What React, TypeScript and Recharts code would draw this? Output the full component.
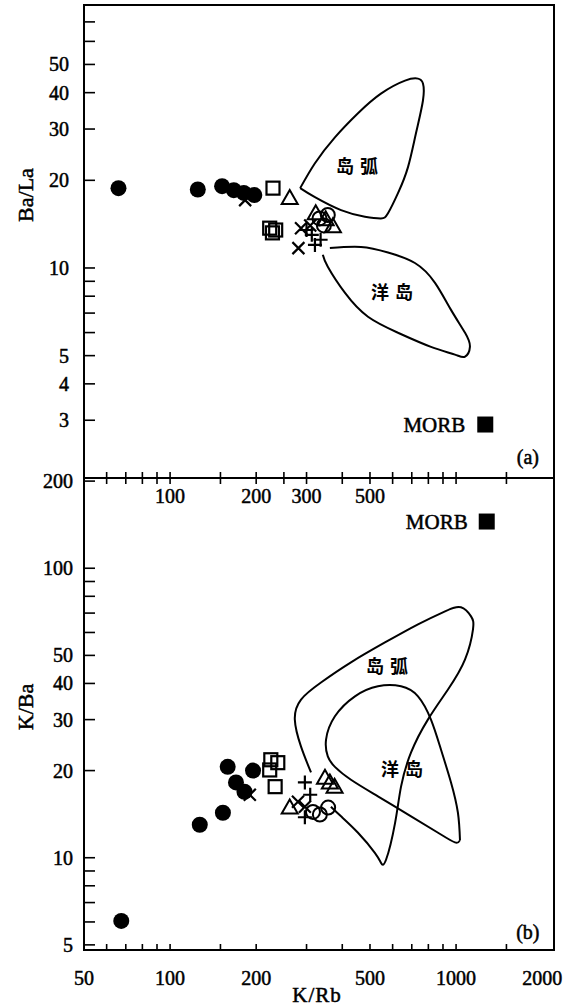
import React from "react";
import { ScatterChart, Scatter, XAxis, YAxis, ReferenceArea, ReferenceDot } from "recharts";

const SERIF = '"Liberation Serif", "Times New Roman", serif';
const CJK = '"Noto Sans CJK SC", sans-serif';
// regular weight, slightly thickened like the scanned print
const INK = { fontWeight: 400, stroke: "#000", strokeWidth: 0.5 };

// axes
const kRbDomain = [50, 2200];
const baLaDomain = [1.9, 80];
const kBaDomain = [4.8, 205];
const kRbTicksA = [60, 70, 80, 90, 100, 150, 200, 250, 300, 400, 500, 600, 700, 800, 900, 1000, 1500];
const kRbLabelsA = [100, 200, 300, 500];
const kRbTicksB = [50, 60, 70, 80, 90, 100, 150, 200, 300, 400, 500, 600, 700, 800, 900, 1000, 1500, 2000];
const kRbLabelsB = [50, 100, 200, 500, 1000, 2000];
const kRbNoLineB = [50, 2000];
const baLaTicks = [3, 4, 5, 6, 7, 8, 9, 10, 20, 30, 40, 50, 60, 70];
const baLaLabels = [3, 4, 5, 10, 20, 30, 40, 50];
const kBaTicks = [5, 6, 7, 8, 9, 10, 20, 30, 40, 50, 60, 70, 80, 90, 100, 200];
const kBaLabels = [5, 10, 20, 30, 40, 50, 100, 200];

// (a) Ba/La vs K/Rb
const aDotKRb = [66, 125, 152, 167, 181, 197];
const aDotBaLa = [18.8, 18.6, 19.1, 18.5, 18.1, 17.8];
const aSqKRb = [229, 223, 234, 228];
const aSqBaLa = [18.8, 13.7, 13.5, 13.2];
const aTriKRb = [262, 323, 350, 371];
const aTriBaLa = [17.4, 15.4, 14.7, 13.9];
const aCirKRb = [333, 356, 345];
const aCirBaLa = [14.8, 15.2, 14.0];
const aXKRb = [183, 287, 309, 281];
const aXBaLa = [17.1, 13.7, 14.0, 11.7];
const aPlusKRb = [300, 321, 336, 313];
const aPlusBaLa = [13.5, 12.0, 12.5, 13.0];
const aMorbKRb = [1265];
const aMorbBaLa = [2.9];

// (a) fields
const arcAKRb = [285, 321, 377, 454, 546, 663, 736, 766, 766, 724, 679, 627, 578, 546, 480, 396, 321, 285];
const arcABaLa = [18.8, 22.9, 28.1, 34.0, 39.7, 44.0, 44.7, 43.0, 37.6, 29.0, 22.2, 18.1, 15.4, 14.8, 15.0, 15.8, 17.5, 18.8];
const oibAKRb = [362, 465, 578, 718, 844, 960, 1075, 1118, 1075, 991, 817, 627, 492, 409, 356, 342];
const oibABaLa = [11.7, 11.8, 11.3, 10.4, 8.89, 7.18, 5.99, 5.36, 4.96, 5.04, 5.36, 5.99, 6.8, 8.21, 10.1, 11.1];

// (b) K/Ba vs K/Rb
const bDotKRb = [67.5, 127, 153, 159, 170, 182, 195];
const bDotKBa = [6.05, 13.0, 14.3, 20.6, 18.2, 16.9, 20.0];
const bSqKRb = [225, 238, 223, 233];
const bSqKBa = [21.8, 21.3, 20.1, 17.6];
const bTriKRb = [262, 362, 376, 348];
const bTriKBa = [14.9, 18.2, 17.6, 18.9];
const bCirKRb = [357, 334, 316];
const bCirKBa = [14.9, 14.1, 14.4];
const bXKRb = [190, 280, 296];
const bXKBa = [16.5, 15.6, 15.0];
const bPlusKRb = [296, 296, 309];
const bPlusKBa = [18.2, 13.8, 16.5];
const bMorbKRb = [1280];
const bMorbKBa = [145];

// (b) fields
const arcBKRb = [311, 287, 273, 287, 337, 429, 564, 736, 915, 1040, 1128, 1146, 1075, 937, 797, 696, 642, 612, 569, 546, 520, 454, 396, 365];
const arcBKBa = [19.7, 24.2, 30.0, 35.2, 40.3, 47.3, 55.4, 64.0, 71.0, 73.3, 68.2, 61.5, 48.4, 38.1, 30.0, 23.1, 17.6, 13.2, 9.84, 9.61, 10.4, 12.2, 13.9, 15.0];
const oibBKRb = [1032, 991, 865, 696, 533, 429, 377, 356, 351, 377, 443, 533, 642, 736, 817, 886, 960, 1015, 1032];
const oibBKBa = [11.5, 11.3, 12.2, 13.9, 16.3, 18.6, 20.6, 22.4, 25.6, 30.8, 36.1, 39.1, 39.1, 36.1, 30.0, 23.6, 18.2, 14.3, 11.5];

const zip = (xs: number[], ys: number[]) => xs.map((x, i) => ({ x, y: ys[i] }));

// markers
const FilledCircle = (p: any) => <circle cx={p.cx} cy={p.cy} r={8} fill="#000" />;
const OpenCircle = (p: any) => (
  <circle cx={p.cx} cy={p.cy} r={7} fill="none" stroke="#000" strokeWidth={2} />
);
const OpenSquare = (p: any) => (
  <rect x={p.cx - 6.5} y={p.cy - 6.5} width={13} height={13} fill="none" stroke="#000" strokeWidth={2.2} />
);
const FilledSquare = (p: any) => <rect x={p.cx - 8} y={p.cy - 8} width={16} height={16} fill="#000" />;
const OpenTriangle = (p: any) => (
  <polygon
    points={`${p.cx},${p.cy - 8} ${p.cx + 8},${p.cy + 6} ${p.cx - 8},${p.cy + 6}`}
    fill="none"
    stroke="#000"
    strokeWidth={2}
  />
);
const XMark = (p: any) => (
  <path
    d={`M${p.cx - 6},${p.cy - 6}L${p.cx + 6},${p.cy + 6}M${p.cx - 6},${p.cy + 6}L${p.cx + 6},${p.cy - 6}`}
    stroke="#000"
    strokeWidth={2.2}
  />
);
const PlusMark = (p: any) => (
  <path
    d={`M${p.cx - 7},${p.cy}L${p.cx + 7},${p.cy}M${p.cx},${p.cy - 7}L${p.cx},${p.cy + 7}`}
    stroke="#000"
    strokeWidth={2.2}
  />
);
const NoMark = () => <g />;

// ticks
const xTick = (labels: number[], both: boolean, noLine: number[], labelDy: number) => (p: any) => {
  const v = p.payload.value;
  return (
    <g>
      {!noLine.includes(v) && (
        <line x1={p.x} x2={p.x} y1={p.y - 6} y2={both ? p.y + 6 : p.y} stroke="#000" strokeWidth={1.6} />
      )}
      {labels.includes(v) && (
        <text x={p.x} y={p.y + labelDy} textAnchor="middle" fontFamily={SERIF} fontSize={20} fill="#000" {...INK}>
          {v}
        </text>
      )}
    </g>
  );
};

const yTick = (labels: number[], gap: number) => (p: any) => {
  const v = p.payload.value;
  return (
    <g>
      <line x1={p.x} x2={p.x + 11} y1={p.y} y2={p.y} stroke="#000" strokeWidth={1.6} />
      {labels.includes(v) && (
        <text x={p.x - gap} y={p.y} dy="0.35em" textAnchor="end" fontFamily={SERIF} fontSize={20} fill="#000" {...INK}>
          {v}
        </text>
      )}
    </g>
  );
};

const textAt = (label: string, font: string, size: number, anchor: string, dx: number, spacing = 0) => (p: any) => (
  <text
    x={p.cx + dx}
    y={p.cy}
    dy="0.35em"
    textAnchor={anchor}
    fontFamily={font}
    fontSize={size}
    letterSpacing={spacing}
    fill="#000"
    {...(font === CJK ? { fontWeight: 700 } : INK)}
  >
    {label}
  </text>
);

const fieldLine = { stroke: "#000", strokeWidth: 2, fill: "none" };

export default function App() {
  return (
    <div style={{ position: "absolute", left: 0, top: 0, width: 575, height: 1008, background: "#fff" }}>
      <div style={{ position: "absolute", left: 0, top: 0 }}>
        <ScatterChart width={575} height={520} margin={{ top: 5, right: 21, bottom: 0, left: 0 }}>
          <XAxis
            type="number"
            dataKey="x"
            scale="log"
            domain={kRbDomain}
            allowDataOverflow
            ticks={kRbTicksA}
            interval={0}
            height={42}
            tickSize={0}
            tickMargin={0}
            axisLine={false}
            tickLine={false}
            tick={xTick(kRbLabelsA, true, [], 25)}
          />
          <YAxis
            type="number"
            dataKey="y"
            scale="log"
            domain={baLaDomain}
            allowDataOverflow
            ticks={baLaTicks}
            interval={0}
            width={84}
            tickSize={0}
            tickMargin={0}
            axisLine={false}
            tickLine={false}
            tick={yTick(baLaLabels, 15)}
          />
          <ReferenceArea x1={50} x2={2200} y1={1.9} y2={80} fill="none" stroke="#000" strokeWidth={2} />
          <Scatter data={zip(arcAKRb, arcABaLa)} shape={NoMark} line={fieldLine} lineType="joint" lineJointType="natural" isAnimationActive={false} />
          <Scatter data={zip(oibAKRb, oibABaLa)} shape={NoMark} line={fieldLine} lineType="joint" lineJointType="natural" isAnimationActive={false} />
          <Scatter data={zip(aDotKRb, aDotBaLa)} shape={FilledCircle} isAnimationActive={false} />
          <Scatter data={zip(aSqKRb, aSqBaLa)} shape={OpenSquare} isAnimationActive={false} />
          <Scatter data={zip(aTriKRb, aTriBaLa)} shape={OpenTriangle} isAnimationActive={false} />
          <Scatter data={zip(aCirKRb, aCirBaLa)} shape={OpenCircle} isAnimationActive={false} />
          <Scatter data={zip(aXKRb, aXBaLa)} shape={XMark} isAnimationActive={false} />
          <Scatter data={zip(aPlusKRb, aPlusBaLa)} shape={PlusMark} isAnimationActive={false} />
          <Scatter data={zip(aMorbKRb, aMorbBaLa)} shape={FilledSquare} isAnimationActive={false} />
          <ReferenceDot x={461} y={22.2} r={1} shape={textAt("岛弧", CJK, 18, "middle", 0, 6)} />
          <ReferenceDot x={612} y={8.2} r={1} shape={textAt("洋岛", CJK, 18, "middle", 0, 6)} />
          <ReferenceDot x={aMorbKRb[0]} y={aMorbBaLa[0]} r={1} shape={textAt("MORB", SERIF, 21, "end", -20)} />
          <ReferenceDot x={1782} y={2.25} r={1} shape={textAt("(a)", SERIF, 20, "middle", 0)} />
        </ScatterChart>
      </div>
      <div style={{ position: "absolute", left: 0, top: 440 }}>
        <ScatterChart width={575} height={568} margin={{ top: 38, right: 21, bottom: 0, left: 0 }}>
          <XAxis
            type="number"
            dataKey="x"
            scale="log"
            domain={kRbDomain}
            allowDataOverflow
            ticks={kRbTicksB}
            interval={0}
            height={58}
            tickSize={0}
            tickMargin={0}
            axisLine={false}
            tickLine={false}
            tick={xTick(kRbLabelsB, false, kRbNoLineB, 35)}
          />
          <YAxis
            type="number"
            dataKey="y"
            scale="log"
            domain={kBaDomain}
            allowDataOverflow
            ticks={kBaTicks}
            interval={0}
            width={84}
            tickSize={0}
            tickMargin={0}
            axisLine={false}
            tickLine={false}
            tick={yTick(kBaLabels, 11)}
          />
          <ReferenceArea x1={50} x2={2200} y1={4.8} y2={205} fill="none" stroke="#000" strokeWidth={2} />
          <Scatter data={zip(arcBKRb, arcBKBa)} shape={NoMark} line={fieldLine} lineType="joint" lineJointType="natural" isAnimationActive={false} />
          <Scatter data={zip(oibBKRb, oibBKBa)} shape={NoMark} line={fieldLine} lineType="joint" lineJointType="natural" isAnimationActive={false} />
          <Scatter data={zip(bDotKRb, bDotKBa)} shape={FilledCircle} isAnimationActive={false} />
          <Scatter data={zip(bSqKRb, bSqKBa)} shape={OpenSquare} isAnimationActive={false} />
          <Scatter data={zip(bTriKRb, bTriKBa)} shape={OpenTriangle} isAnimationActive={false} />
          <Scatter data={zip(bCirKRb, bCirKBa)} shape={OpenCircle} isAnimationActive={false} />
          <Scatter data={zip(bXKRb, bXKBa)} shape={XMark} isAnimationActive={false} />
          <Scatter data={zip(bPlusKRb, bPlusKBa)} shape={PlusMark} isAnimationActive={false} />
          <Scatter data={zip(bMorbKRb, bMorbKBa)} shape={FilledSquare} isAnimationActive={false} />
          <ReferenceDot x={587} y={45.8} r={1} shape={textAt("岛弧", CJK, 18, "middle", 0, 6)} />
          <ReferenceDot x={663} y={20.2} r={1} shape={textAt("洋岛", CJK, 18, "middle", 0, 6)} />
          <ReferenceDot x={bMorbKRb[0]} y={bMorbKBa[0]} r={1} shape={textAt("MORB", SERIF, 21, "end", -19)} />
          <ReferenceDot x={1782} y={5.55} r={1} shape={textAt("(b)", SERIF, 20, "middle", 0)} />
        </ScatterChart>
      </div>
      <svg width={575} height={1008} style={{ position: "absolute", left: 0, top: 0, pointerEvents: "none" }}>
        <text x={25} y={195} transform="rotate(-90 25 195)" textAnchor="middle" dy="0.35em" fontFamily={SERIF} fontSize={22} fill="#000" {...INK}>
          Ba/La
        </text>
        <text x={25} y={707} transform="rotate(-90 25 707)" textAnchor="middle" dy="0.35em" fontFamily={SERIF} fontSize={22} fill="#000" {...INK}>
          K/Ba
        </text>
        <text x={317} y={1002} textAnchor="middle" fontFamily={SERIF} fontSize={21} letterSpacing={1} fill="#000" {...INK}>
          K/Rb
        </text>
      </svg>
    </div>
  );
}
